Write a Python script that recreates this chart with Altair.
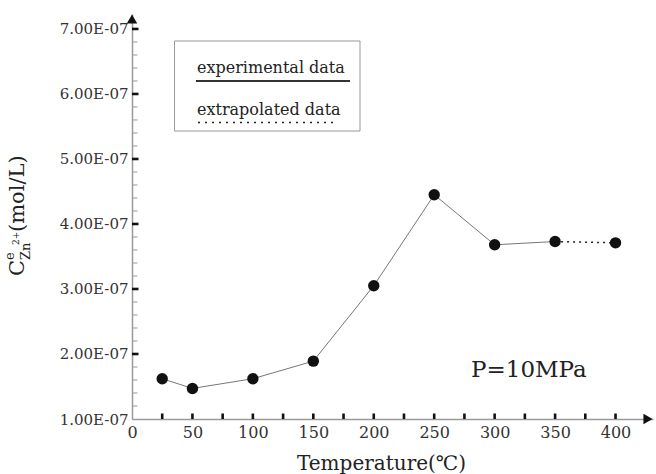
import altair as alt
import pandas as pd

# ---- data ----
TEMPS = [25, 50, 100, 150, 200, 250, 300, 350, 400]
CONC = [1.62e-7, 1.47e-7, 1.62e-7, 1.89e-7, 3.05e-7, 4.45e-7, 3.68e-7, 3.73e-7, 3.71e-7]
N_EXPERIMENTAL = 8  # first 8 points are experimental, last is extrapolated

X_LABEL_VALUES = [0, 50, 100, 150, 200, 250, 300, 350, 400]
X_TICK_VALUES = [25, 50, 75, 100, 125, 150, 175, 200, 225, 250, 275, 300, 325, 350, 375, 400]
Y_LABEL_VALUES = [1e-7, 2e-7, 3e-7, 4e-7, 5e-7, 6e-7, 7e-7]
Y_MAJOR_TICKS = [2e-7, 3e-7, 4e-7, 5e-7, 6e-7, 7e-7]
Y_MINOR_TICKS = [round((1 + 0.2 * i) * 1e-7, 12) for i in range(1, 30) if i % 5 != 0]

X_MAX = 431
Y_MIN, Y_MAX = 1e-7, 7.23e-7

LEGEND_LABELS = ["experimental data", "extrapolated data"]
ANNOTATION = ["P=10MPa"]
X_TITLE = "Temperature(℃)"

FONT = "DejaVu Serif"
W, H = 521, 405

df = pd.DataFrame({"T": TEMPS, "C": CONC})
df_exp = df.iloc[:N_EXPERIMENTAL]
df_ext = df.iloc[N_EXPERIMENTAL - 1:]

xs = alt.Scale(domain=[0, X_MAX], nice=False, zero=False)
ys = alt.Scale(domain=[Y_MIN, Y_MAX], nice=False, zero=False)

x_axis = alt.Axis(
    values=X_LABEL_VALUES, format="d", ticks=False, grid=False,
    domainColor="#9a9a9a", domainWidth=1.5,
    labelFont=FONT, labelFontSize=16, labelColor="#333", labelPadding=5,
    labelFlush=False, labelOverlap=False,
    title=X_TITLE, titleFont=FONT, titleFontSize=20, titleFontWeight="normal",
    titleColor="#222", titleX=249, titleY=50, titleBaseline="alphabetic", titleAlign="center",
)
y_axis = alt.Axis(
    values=Y_LABEL_VALUES, labelExpr="format(datum.value*1e7, '.2f') + 'E-07'",
    ticks=False, grid=False, domainColor="#9a9a9a", domainWidth=1.5,
    labelFont=FONT, labelFontSize=15, labelColor="#333", labelPadding=4,
    labelOverlap=False, title="",
)

def X(f):
    return alt.X(f, scale=xs, axis=x_axis)

def Y(f):
    return alt.Y(f, scale=ys, axis=y_axis)

# experimental line
line_exp = alt.Chart(df_exp).mark_line(color="#777", strokeWidth=1).encode(x=X("T:Q"), y=Y("C:Q"))
# extrapolated (dotted) line
line_ext = alt.Chart(df_ext).mark_line(color="#222", strokeWidth=1.5, strokeDash=[2, 4]).encode(
    x=X("T:Q"), y=Y("C:Q"))
points = alt.Chart(df).mark_point(filled=True, shape="circle", size=130, color="#111", opacity=1).encode(
    x=X("T:Q"), y=Y("C:Q"))

# axis ticks
y_major = alt.Chart(pd.DataFrame({"C": Y_MAJOR_TICKS})).mark_rule(color="#111", strokeWidth=2.6).encode(
    y=Y("C:Q"), x=alt.value(0), x2=alt.value(6.5)
)
y_minor = alt.Chart(pd.DataFrame({"C": Y_MINOR_TICKS})).mark_rule(color="#999", strokeWidth=1).encode(
    y=Y("C:Q"), x=alt.value(0), x2=alt.value(5.5)
)
x_ticks = alt.Chart(pd.DataFrame({"T": X_TICK_VALUES})).mark_rule(color="#111", strokeWidth=2.6).encode(
    x=X("T:Q"), y=alt.value(H), y2=alt.value(H - 5.5)
)

# arrow heads
arrow_up = alt.Chart(pd.DataFrame({"T": [0], "C": [Y_MAX]})).mark_point(
    shape="triangle-up", filled=True, color="#111", size=110, opacity=1, yOffset=5
).encode(x=X("T:Q"), y=Y("C:Q"))
arrow_right = alt.Chart(pd.DataFrame({"T": [X_MAX], "C": [Y_MIN]})).mark_point(
    shape="triangle-right", filled=True, color="#111", size=110, opacity=1, xOffset=-5
).encode(x=X("T:Q"), y=Y("C:Q"))

# legend box
one = pd.DataFrame({"a": [0]})
legend_box = alt.Chart(one).mark_rect(fillOpacity=0, stroke="#999", strokeWidth=1).encode(
    x=alt.value(42.5), x2=alt.value(228), y=alt.value(27), y2=alt.value(117)
)
leg_txt1 = alt.Chart(pd.DataFrame({"t": [LEGEND_LABELS[0]]})).mark_text(
    font=FONT, fontSize=16, color="#222", align="left", baseline="alphabetic"
).encode(x=alt.value(65), y=alt.value(59), text="t:N")
leg_line1 = alt.Chart(one).mark_rule(color="#333", strokeWidth=1.8).encode(
    x=alt.value(64), x2=alt.value(218), y=alt.value(67)
)
leg_txt2 = alt.Chart(pd.DataFrame({"t": [LEGEND_LABELS[1]]})).mark_text(
    font=FONT, fontSize=16, color="#222", align="left", baseline="alphabetic"
).encode(x=alt.value(65), y=alt.value(100.5), text="t:N")
leg_line2 = alt.Chart(one).mark_rule(color="#222", strokeWidth=1.5, strokeDash=[2, 5]).encode(
    x=alt.value(66), x2=alt.value(206), y=alt.value(108.5)
)

annot = alt.Chart(pd.DataFrame({"t": ANNOTATION})).mark_text(
    font=FONT, fontSize=23, color="#222", align="left", baseline="alphabetic"
).encode(x=alt.value(339), y=alt.value(363), text="t:N")

# y-axis title: C^e_{Zn^{2+}} (mol/L), rotated
def ytxt(s, size, bx, by):
    return alt.Chart(pd.DataFrame({"t": [s]})).mark_text(
        font=FONT, fontSize=size, color="#222", align="left", baseline="alphabetic", angle=270
    ).encode(x=alt.value(bx), y=alt.value(by), text="t:N")

Y_TITLE_PARTS = ["C", "e", "Zn", "2+", "(mol/L)"]
yt_C = ytxt(Y_TITLE_PARTS[0], 21, -108, 262)
yt_e = ytxt(Y_TITLE_PARTS[1], 13, -118, 246)
yt_Zn = ytxt(Y_TITLE_PARTS[2], 13, -102, 246)
yt_2 = ytxt(Y_TITLE_PARTS[3], 9, -113, 231)
yt_unit = ytxt(Y_TITLE_PARTS[4], 21, -108, 218)

chart = alt.layer(
    line_exp, line_ext, points, y_minor, y_major, x_ticks, arrow_up, arrow_right,
    legend_box, leg_txt1, leg_line1, leg_txt2, leg_line2, annot,
    yt_C, yt_e, yt_Zn, yt_2, yt_unit,
).properties(
    width=W, height=H,
    autosize=alt.AutoSizeParams(type="none"),
    padding={"left": 132, "top": 14, "right": 3, "bottom": 55},
    background="white",
).configure_view(stroke=None)

chart.save("out.html", embed_options={"renderer": "svg", "actions": False})
